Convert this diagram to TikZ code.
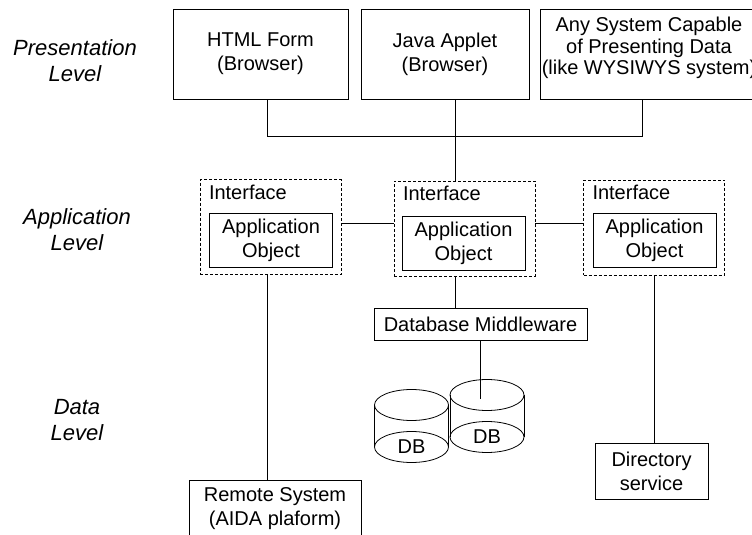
\documentclass[tikz,border=0pt]{standalone}
\usepackage{fontspec}
\setmainfont{Liberation Sans}
\usetikzlibrary{positioning}
\tikzset{
  box/.style={draw,inner sep=0pt,align=center},
  iface/.style={draw,dash pattern=on 3pt off 2pt,inner sep=0pt,minimum width=141pt,minimum height=95pt},
  objbox/.style={box,minimum width=123pt,minimum height=54pt},
  lvl/.style={align=center,font=\fontsize{22}{26}\selectfont\itshape},
}
\newcommand{\AppObj}[3]% box pos, object pos, name
{\node[iface] (#3) at (#1) {};
  \node[objbox] (#3o) at (#2) {Application\\Object};
  \node[anchor=base west,inner sep=0pt] (#3t) at ([shift={(9pt,-20pt)}]#3.north west) {Interface};
}
\newcommand{\Disk}[2]% pos (top centre), name
{\coordinate (#2) at (#1);
  \draw ([xshift=-37pt]#2) -- ++(0,42) ([xshift=37pt]#2) -- ++(0,42);
  \draw (#2) ellipse [x radius=37pt,y radius=15.5pt];
  \draw ([yshift=-42pt]#2) ellipse [x radius=37pt,y radius=15.5pt];
  \node (#2t) at ([yshift=-42pt]#2) {DB};
}

\begin{document}
\begin{tikzpicture}[x=1pt,y=-1pt,line width=0.8pt,font=\fontsize{20}{24}\selectfont]
  \useasboundingbox (0,0) rectangle (752,535);
  % levels
  \node[lvl] (presL) at (75,61) {Presentation\\Level};
  \node[lvl] (appL) at (77,230) {Application\\Level};
  \node[lvl] (dataL) at (77,420) {Data\\Level};
  % presentation
  \node[box,minimum width=175pt,minimum height=90pt] (html) at (260.5,54) {HTML Form\\(Browser)};
  \node[box,minimum width=168pt,minimum height=90pt] (java) at (445,54) {Java Applet\\(Browser)};
  \node[box,minimum width=217pt,minimum height=90pt,font=\fontsize{20}{21.5}\selectfont,text depth=16pt] (any) at (649,54) {Any System Capable\\of Presenting Data\\(like WYSIWYS system)};
  \coordinate (busL) at (267,136);
  \coordinate (busR) at (642,136);
  \coordinate (hub) at (455,136);
  \draw (busL |- html.south) -- (busL) -- (busR) -- (busR |- any.south);
  % application
  \AppObj{270.5,227}{271,240.5}{ifL}
  \AppObj{464.5,228.5}{463.5,243.5}{ifM}
  \AppObj{654,227.5}{654.5,240.5}{ifR}
  \coordinate (lnk) at (0,223);
  \draw (hub |- java.south) -- (hub |- ifM.north);
  \draw (ifL.east |- lnk) -- (ifM.west |- lnk) (ifM.east |- lnk) -- (ifR.west |- lnk);
  % data
  \node[box,minimum width=213pt,minimum height=32pt] (mw) at (480.5,324) {Database Middleware};
  \Disk{411.5,405}{db1}
  \Disk{487,395}{db2}
  \coordinate (mwEnd) at (480.5,399);
  \node[box,minimum width=172pt,minimum height=57pt] (rem) at (275,508.5) {Remote System\\(AIDA plaform)};
  \node[box,minimum width=113pt,minimum height=56pt] (dir) at (651.5,471) {Directory\\service};
  \draw (hub |- ifM.south) -- (hub |- mw.north);
  \draw (mw.south) -- (mwEnd);
  \draw (busL |- ifL.south) -- (busL |- rem.north);
  \draw (ifR.south) -- (ifR.south |- dir.north);
\end{tikzpicture}
\end{document}
